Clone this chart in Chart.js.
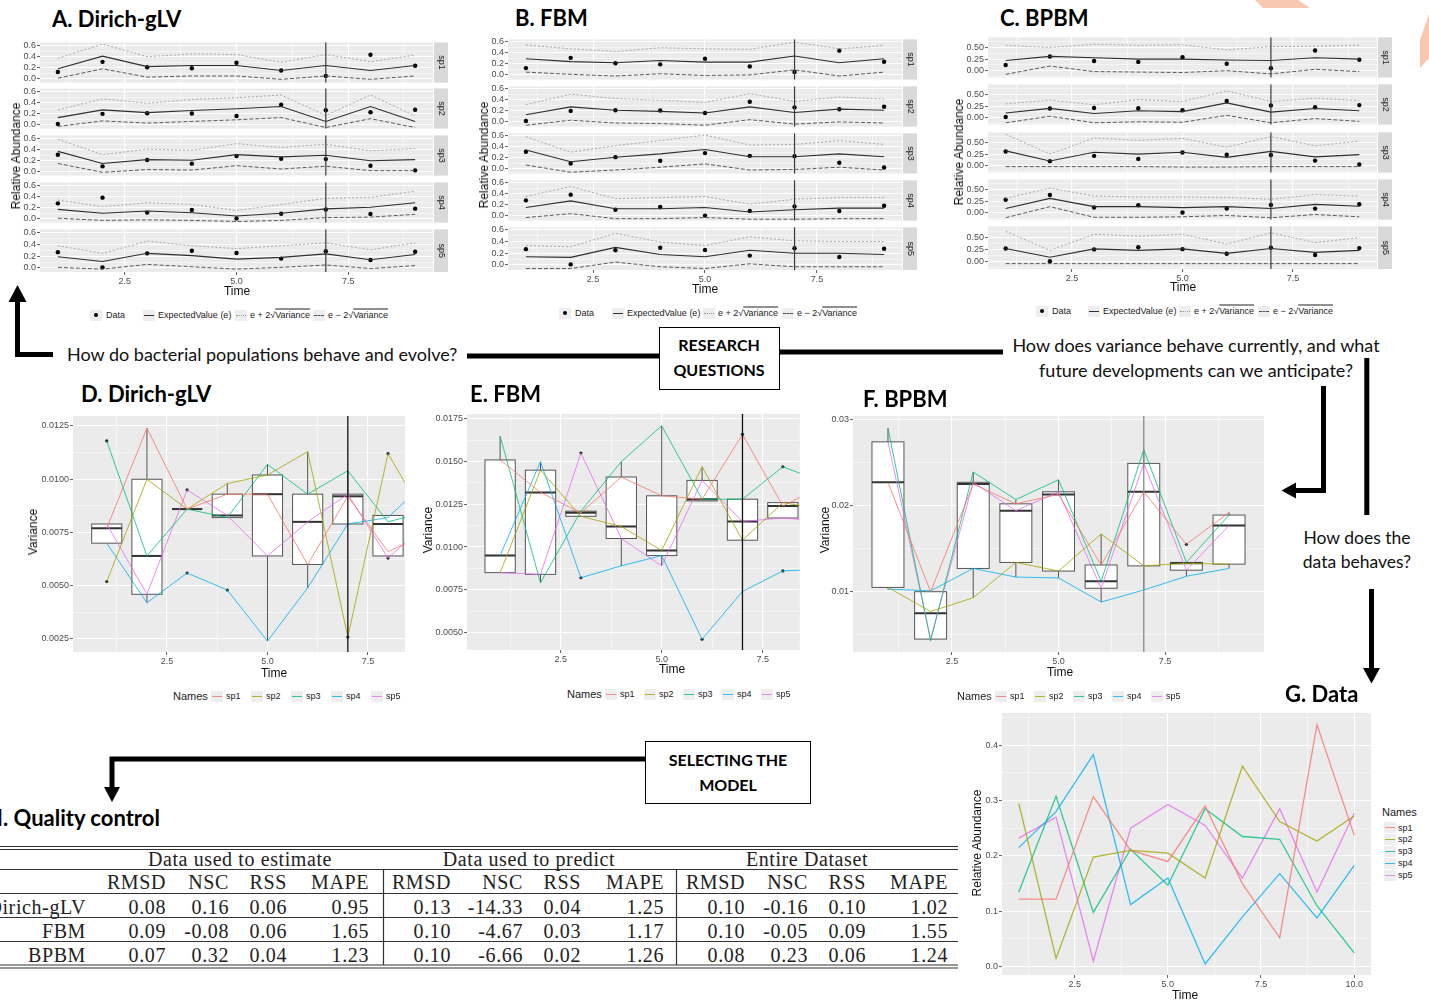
<!DOCTYPE html>
<html>
<head>
<meta charset="utf-8">
<title>Dirich-gLV vs FBM vs BPBM</title>
<script src="https://cdn.jsdelivr.net/npm/chart.js@4.4.1/dist/chart.umd.min.js"></script>
<style>
  html, body { margin: 0; padding: 0; background: #fff; }
  #page { position: relative; width: 1429px; height: 1003px; overflow: hidden; font-family: Lato, "Open Sans", sans-serif; color: #111; }
  .abs { position: absolute; white-space: nowrap; line-height: 1; }
  .title { font-weight: 700; font-size: 22px; color: #000; }
  .q { font-size: 18px; color: #111; }
  .q2 { font-size: 17.5px; color: #111; }
  .boxed { font-weight: 700; font-size: 16px; color: #000; }
  .axt { font-family: "Liberation Sans", Arial, sans-serif; font-size: 12px; color: #111; }
  .leg { font-family: "Liberation Sans", Arial, sans-serif; font-size: 9px; color: #222; }
  .key { position: absolute; width: 12px; height: 11px; background: #eeeeee; }
  .key i { position: absolute; left: 1px; right: 1px; top: 5px; height: 0; }
  .tbl { font-family: "Liberation Serif", "DejaVu Serif", serif; font-size: 20px; letter-spacing: 0.6px; color: #222; }
  .qbox { position: absolute; border: 1.5px solid #000; background: #fff; }
  canvas { position: absolute; }
</style>
</head>
<body>
<div id="page">
<svg width="1429" height="1003" style="position:absolute;left:0;top:0">
  <polygon fill="#f8c8b1" points="1255,0 1298,0 1310,8 1263,8"/>
  <polygon fill="#f8c8b1" points="1429,14 1429,58 1420,68 1420,40"/>
  <g stroke="#000" stroke-width="5" fill="none">
    <polyline points="17.5,300 17.5,354.5 53,354.5"/>
    <line x1="467" y1="356" x2="659" y2="356"/>
    <line x1="779" y1="352" x2="1003" y2="352"/>
    <polyline points="1323.5,386 1323.5,490.5 1294,490.5"/>
    <line x1="1366.8" y1="358" x2="1366.8" y2="515"/>
    <line x1="1371.5" y1="589" x2="1371.5" y2="670"/>
    <polyline points="645,759 112,759 112,790"/>
  </g>
  <g fill="#000">
    <polygon points="17.5,285 8.5,302 26.5,302"/>
    <polygon points="1281.5,490.5 1296,482.5 1296,498.5"/>
    <polygon points="1371.5,683.5 1363,668 1380,668"/>
    <polygon points="112,802 104,787 120,787"/>
  </g>
  <g stroke="#333" stroke-width="1.2">
    <line x1="0" y1="846.5" x2="958" y2="846.5"/>
    <line x1="0" y1="849.5" x2="958" y2="849.5"/>
    <line x1="0" y1="869.5" x2="958" y2="869.5"/>
    <line x1="0" y1="893.5" x2="958" y2="893.5"/>
    <line x1="0" y1="917.5" x2="958" y2="917.5"/>
    <line x1="0" y1="941.5" x2="958" y2="941.5"/>
    <line x1="0" y1="965" x2="958" y2="965"/>
    <line x1="0" y1="968" x2="958" y2="968"/>
    <line x1="383.5" y1="870" x2="383.5" y2="965"/>
    <line x1="676.5" y1="870" x2="676.5" y2="965"/>
  </g>
</svg>
<div class="qbox" style="left:659px;top:327px;width:119px;height:61px"></div>
<div class="qbox" style="left:645px;top:741px;width:164px;height:61px"></div>
</div>
<script>
// ---- data ----
const times = [1, 2, 3, 4, 5, 6, 7, 8, 9];
const dataTimes = [1, 2, 3, 4, 5, 6, 7, 8, 9, 10];
const species = ['sp1', 'sp2', 'sp3', 'sp4', 'sp5'];
const splitTime = 7;

// G. observed relative abundance, times 1..10
const gSp1 = [0.122, 0.122, 0.307, 0.21, 0.19, 0.29, 0.15, 0.052, 0.437, 0.237];
const gSp2 = [0.295, 0.015, 0.198, 0.21, 0.205, 0.16, 0.362, 0.262, 0.227, 0.272];
const gSp3 = [0.135, 0.308, 0.098, 0.212, 0.147, 0.285, 0.235, 0.23, 0.11, 0.025];
const gSp4 = [0.215, 0.28, 0.383, 0.112, 0.16, 0.005, 0.09, 0.168, 0.088, 0.183];
const gSp5 = [0.232, 0.27, 0.01, 0.25, 0.293, 0.255, 0.16, 0.285, 0.135, 0.277];

// A. Dirich-gLV expected value and e +/- 2 sqrt(variance), one row per species
const aExp = [
  [0.18, 0.41, 0.22, 0.24, 0.24, 0.15, 0.24, 0.15, 0.24],
  [0.13, 0.27, 0.22, 0.26, 0.29, 0.33, 0.06, 0.33, 0.06],
  [0.37, 0.15, 0.22, 0.21, 0.31, 0.27, 0.30, 0.20, 0.22],
  [0.17, 0.10, 0.14, 0.11, 0.05, 0.10, 0.18, 0.21, 0.29],
  [0.19, 0.11, 0.25, 0.21, 0.15, 0.18, 0.24, 0.14, 0.23]
];
const aUp = [
  [0.37, 0.63, 0.40, 0.45, 0.44, 0.30, 0.44, 0.31, 0.43],
  [0.27, 0.47, 0.39, 0.46, 0.49, 0.54, 0.17, 0.54, 0.16],
  [0.59, 0.31, 0.41, 0.39, 0.51, 0.44, 0.50, 0.38, 0.42],
  [0.34, 0.22, 0.29, 0.26, 0.15, 0.26, 0.37, 0.39, 0.50],
  [0.38, 0.25, 0.46, 0.38, 0.33, 0.38, 0.43, 0.31, 0.43]
];
const aLow = [
  [0.01, 0.18, 0.03, 0.05, 0.05, -0.01, 0.05, -0.01, 0.05],
  [-0.03, 0.07, 0.03, 0.06, 0.09, 0.13, -0.05, 0.11, -0.05],
  [0.15, -0.01, 0.04, 0.03, 0.11, 0.05, 0.10, 0.02, 0.02],
  [0.01, -0.03, -0.02, -0.03, -0.05, -0.03, 0.02, 0.03, 0.08],
  [0.01, -0.02, 0.06, 0.02, -0.02, 0.01, 0.05, -0.01, 0.04]
];

// B. FBM
const bExp = [
  [0.29, 0.24, 0.22, 0.26, 0.23, 0.23, 0.34, 0.22, 0.29],
  [0.13, 0.27, 0.21, 0.19, 0.16, 0.27, 0.17, 0.23, 0.21],
  [0.34, 0.13, 0.21, 0.27, 0.35, 0.22, 0.22, 0.27, 0.22],
  [0.15, 0.27, 0.13, 0.13, 0.15, 0.07, 0.11, 0.14, 0.14],
  [0.14, 0.13, 0.30, 0.18, 0.14, 0.25, 0.20, 0.20, 0.18]
];
const bUp = [
  [0.54, 0.47, 0.42, 0.49, 0.47, 0.46, 0.59, 0.47, 0.53],
  [0.31, 0.50, 0.42, 0.39, 0.35, 0.51, 0.37, 0.45, 0.41],
  [0.58, 0.30, 0.42, 0.51, 0.61, 0.43, 0.44, 0.51, 0.44],
  [0.35, 0.53, 0.31, 0.33, 0.35, 0.21, 0.30, 0.33, 0.33],
  [0.33, 0.31, 0.54, 0.39, 0.33, 0.48, 0.41, 0.40, 0.40]
];
const bLow = [
  [0.05, 0.01, -0.02, 0.02, -0.01, 0.00, 0.09, -0.02, 0.05],
  [-0.06, 0.03, -0.02, -0.03, -0.06, 0.04, -0.04, 0.00, -0.02],
  [0.07, -0.06, -0.02, 0.03, 0.09, -0.02, -0.01, 0.03, -0.02],
  [-0.03, 0.04, -0.05, -0.05, -0.03, -0.06, -0.06, -0.05, -0.05],
  [-0.06, -0.06, 0.05, -0.03, -0.06, 0.02, -0.03, -0.03, -0.03]
];

// C. BPBM
const cExp = [
  [0.22, 0.31, 0.28, 0.25, 0.25, 0.23, 0.22, 0.28, 0.25],
  [0.10, 0.20, 0.09, 0.15, 0.13, 0.32, 0.12, 0.20, 0.15],
  [0.32, 0.10, 0.29, 0.25, 0.29, 0.18, 0.31, 0.19, 0.24],
  [0.09, 0.31, 0.13, 0.13, 0.11, 0.13, 0.09, 0.18, 0.14],
  [0.27, 0.09, 0.26, 0.23, 0.26, 0.17, 0.27, 0.19, 0.23]
];
const cUp = [
  [0.55, 0.50, 0.57, 0.55, 0.56, 0.45, 0.52, 0.53, 0.55],
  [0.30, 0.38, 0.28, 0.39, 0.35, 0.58, 0.35, 0.42, 0.37],
  [0.68, 0.25, 0.60, 0.55, 0.59, 0.40, 0.63, 0.43, 0.53],
  [0.31, 0.53, 0.36, 0.34, 0.34, 0.33, 0.29, 0.39, 0.36],
  [0.62, 0.23, 0.56, 0.52, 0.56, 0.36, 0.59, 0.39, 0.49]
];
const cLow = [
  [-0.08, 0.10, -0.02, -0.03, -0.04, 0.00, -0.07, 0.03, -0.02],
  [-0.11, 0.03, -0.11, -0.09, -0.10, 0.05, -0.11, -0.02, -0.08],
  [-0.02, -0.02, -0.02, -0.02, -0.03, -0.03, -0.02, -0.02, -0.02],
  [-0.11, 0.13, -0.10, -0.10, -0.09, -0.06, -0.11, -0.04, -0.09],
  [-0.04, -0.04, -0.04, -0.04, -0.04, -0.04, -0.04, -0.04, -0.04]
];

// D. Dirich-gLV variance per species and its boxplot per time
const dVar = [
  [0.0077, 0.0124, 0.0086, 0.0093, 0.0093, 0.0060, 0.0092, 0.0066, 0.0075],
  [0.0052, 0.0100, 0.0086, 0.0098, 0.0102, 0.0113, 0.0026, 0.0112, 0.0080],
  [0.0118, 0.0064, 0.0086, 0.0082, 0.0107, 0.0093, 0.0104, 0.0080, 0.0085],
  [0.0070, 0.0042, 0.0056, 0.0048, 0.0024, 0.0049, 0.0079, 0.0082, 0.0100],
  [0.0079, 0.0046, 0.0095, 0.0083, 0.0064, 0.0080, 0.0093, 0.0063, 0.0080]
];
const dLo  = [0.0070, 0.0042, 0.0086, 0.0082, 0.0024, 0.0049, 0.0079, 0.0064, 0.0075];
const dQ1  = [0.0070, 0.0046, 0.0086, 0.0082, 0.0064, 0.0060, 0.0079, 0.0064, 0.0080];
const dMed = [0.0077, 0.0064, 0.0086, 0.0083, 0.0093, 0.0080, 0.0092, 0.0079, 0.0080];
const dQ3  = [0.0079, 0.0100, 0.0086, 0.0093, 0.0102, 0.0093, 0.0093, 0.0083, 0.0085];
const dHi  = [0.0079, 0.0124, 0.0086, 0.0098, 0.0107, 0.0113, 0.0104, 0.0083, 0.0100];
const dOutT = [1, 1, 3, 3, 4, 7, 8, 8];
const dOutV = [0.0118, 0.0052, 0.0095, 0.0056, 0.0048, 0.0026, 0.0112, 0.0063];

// E. FBM
const eVar = [
  [0.0151, 0.0132, 0.0120, 0.0141, 0.0130, 0.0128, 0.0166, 0.0124, 0.0136],
  [0.0085, 0.0145, 0.0118, 0.0112, 0.0098, 0.0147, 0.0104, 0.0126, 0.0122],
  [0.0165, 0.0079, 0.0121, 0.0150, 0.0171, 0.0128, 0.0128, 0.0147, 0.0138],
  [0.0095, 0.0150, 0.0082, 0.0089, 0.0095, 0.0046, 0.0074, 0.0086, 0.0087],
  [0.0085, 0.0084, 0.0155, 0.0105, 0.0089, 0.0139, 0.0115, 0.0117, 0.0115]
];
const eLo  = [0.0085, 0.0079, 0.0118, 0.0089, 0.0089, 0.0127, 0.0074, 0.0117, 0.0115];
const eQ1  = [0.0085, 0.0084, 0.0118, 0.0105, 0.0095, 0.0127, 0.0104, 0.0117, 0.0115];
const eMed = [0.0095, 0.0132, 0.0120, 0.0112, 0.0098, 0.0128, 0.0115, 0.0124, 0.0122];
const eQ3  = [0.0151, 0.0145, 0.0121, 0.0141, 0.0130, 0.0139, 0.0128, 0.0126, 0.0136];
const eHi  = [0.0165, 0.0150, 0.0121, 0.0150, 0.0171, 0.0147, 0.0128, 0.0126, 0.0138];
const eOutT = [3, 3, 6, 7, 8, 8];
const eOutV = [0.0155, 0.0082, 0.0046, 0.0166, 0.0147, 0.0086];

// F. BPBM
const fVar = [
  [0.0227, 0.0100, 0.0225, 0.0202, 0.0213, 0.0131, 0.0216, 0.0155, 0.0192],
  [0.0105, 0.0077, 0.0093, 0.0134, 0.0124, 0.0167, 0.0130, 0.0133, 0.0132],
  [0.0290, 0.0043, 0.0239, 0.0207, 0.0230, 0.0112, 0.0265, 0.0134, 0.0189],
  [0.0103, 0.0101, 0.0127, 0.0117, 0.0116, 0.0088, 0.0102, 0.0118, 0.0127],
  [0.0274, 0.0045, 0.0227, 0.0194, 0.0216, 0.0104, 0.0249, 0.0125, 0.0177]
];
const fLo  = [0.0103, 0.0043, 0.0093, 0.0117, 0.0116, 0.0088, 0.0102, 0.0118, 0.0127];
const fQ1  = [0.0105, 0.0045, 0.0127, 0.0134, 0.0124, 0.0104, 0.0130, 0.0125, 0.0132];
const fMed = [0.0227, 0.0075, 0.0225, 0.0194, 0.0213, 0.0112, 0.0216, 0.0133, 0.0177];
const fQ3  = [0.0274, 0.0100, 0.0227, 0.0202, 0.0216, 0.0131, 0.0249, 0.0134, 0.0189];
const fHi  = [0.0290, 0.0101, 0.0239, 0.0207, 0.0230, 0.0167, 0.0265, 0.0134, 0.0192];
const fOutT = [8];
const fOutV = [0.0155];

// H. quality control table
const tableModels = ['Dirich-gLV', 'FBM', 'BPBM'];
const tableGroups = ['Data used to estimate', 'Data used to predict', 'Entire Dataset'];
const tableMetrics = ['RMSD', 'NSC', 'RSS', 'MAPE'];
const estimateRows = [[0.08, 0.16, 0.06, 0.95], [0.09, -0.08, 0.06, 1.65], [0.07, 0.32, 0.04, 1.23]];
const predictRows = [[0.13, -14.33, 0.04, 1.25], [0.10, -4.67, 0.03, 1.17], [0.10, -6.66, 0.02, 1.26]];
const entireRows = [[0.10, -0.16, 0.10, 1.02], [0.10, -0.05, 0.09, 1.55], [0.08, 0.23, 0.06, 1.24]];

// ---- helpers ----
const page = document.getElementById('page');
const spColors = ['rgba(248,118,109,0.8)', 'rgba(163,165,0,0.8)', 'rgba(0,191,125,0.8)', 'rgba(0,176,246,0.8)', 'rgba(231,107,243,0.8)'];

Chart.defaults.font.family = '"Liberation Sans", Arial, sans-serif';
Chart.defaults.color = '#4d4d4d';

const panelBg = {
  id: 'panelBg',
  beforeDraw(chart) {
    const { ctx, chartArea: a } = chart;
    ctx.save();
    ctx.fillStyle = '#ebebeb';
    ctx.fillRect(a.left, a.top, a.width, a.height);
    ctx.restore();
  }
};

const facetStrip = {
  id: 'facetStrip',
  afterDraw(chart, args, opts) {
    if (!opts.label) return;
    const { ctx, chartArea: a } = chart;
    ctx.save();
    ctx.fillStyle = '#d9d9d9';
    ctx.fillRect(a.right + 1, a.top, 14, a.height);
    ctx.translate(a.right + 8, a.top + a.height / 2);
    ctx.rotate(Math.PI / 2);
    ctx.fillStyle = '#1a1a1a';
    ctx.font = '9px "Liberation Sans", Arial, sans-serif';
    ctx.textAlign = 'center';
    ctx.textBaseline = 'middle';
    ctx.fillText(opts.label, 0, 0);
    ctx.restore();
  }
};

const splitLine = {
  id: 'splitLine',
  afterDatasetsDraw(chart, args, opts) {
    if (opts.x == null) return;
    const { ctx, chartArea: a } = chart;
    const x = chart.scales.x.getPixelForValue(opts.x);
    ctx.save();
    ctx.strokeStyle = opts.color || '#444';
    ctx.lineWidth = opts.width || 1.2;
    ctx.beginPath();
    ctx.moveTo(x, a.top);
    ctx.lineTo(x, a.bottom);
    ctx.stroke();
    ctx.restore();
  }
};

// boxplots are drawn under the species lines
const boxes = {
  id: 'boxes',
  beforeDatasetsDraw(chart, args, o) {
    if (!o.med) return;
    const { ctx, chartArea: a } = chart;
    const xs = chart.scales.x, ys = chart.scales.y;
    ctx.save();
    ctx.beginPath();
    ctx.rect(a.left, a.top, a.width, a.height);
    ctx.clip();
    o.t.forEach((t, i) => {
      const x = xs.getPixelForValue(t);
      const x0 = xs.getPixelForValue(t - o.width / 2);
      const x1 = xs.getPixelForValue(t + o.width / 2);
      const yLo = ys.getPixelForValue(o.lo[i]), yQ1 = ys.getPixelForValue(o.q1[i]);
      const yMed = ys.getPixelForValue(o.med[i]), yQ3 = ys.getPixelForValue(o.q3[i]);
      const yHi = ys.getPixelForValue(o.hi[i]);
      ctx.strokeStyle = '#555';
      ctx.lineWidth = 1;
      ctx.beginPath();
      ctx.moveTo(x, yLo); ctx.lineTo(x, yQ1);
      ctx.moveTo(x, yQ3); ctx.lineTo(x, yHi);
      ctx.stroke();
      ctx.fillStyle = '#ffffff';
      ctx.fillRect(x0, yQ3, x1 - x0, yQ1 - yQ3);
      ctx.strokeRect(x0, yQ3, x1 - x0, yQ1 - yQ3);
      ctx.strokeStyle = '#333';
      ctx.lineWidth = 2;
      ctx.beginPath();
      ctx.moveTo(x0, yMed); ctx.lineTo(x1, yMed);
      ctx.stroke();
    });
    ctx.restore();
  }
};

Chart.register(panelBg, facetStrip, splitLine, boxes);

function mount(left, top, width, height) {
  const c = document.createElement('canvas');
  c.width = Math.round(width);
  c.height = Math.round(height);
  c.style.left = Math.round(left) + 'px';
  c.style.top = Math.round(top) + 'px';
  c.style.width = Math.round(width) + 'px';
  c.style.height = Math.round(height) + 'px';
  page.appendChild(c);
  return c;
}

function label(html, x, y, cls, anchor, rotate) {
  const d = document.createElement('div');
  d.className = 'abs ' + (cls || '');
  d.innerHTML = html;
  d.style.left = x + 'px';
  d.style.top = y + 'px';
  const tx = anchor === 'left' ? '0' : anchor === 'right' ? '-100%' : '-50%';
  d.style.transform = `translate(${tx},-50%)` + (rotate ? ' rotate(-90deg)' : '');
  page.appendChild(d);
  return d;
}

function axis(min, max, major, minor, digits, showLabels, fit, horizontal) {
  const all = major.concat(minor).sort((p, q) => p - q);
  const isMajor = v => major.some(m => Math.abs(m - v) < 1e-9);
  return {
    type: 'linear', min, max,
    afterBuildTicks: s => { s.ticks = all.map(v => ({ value: v })); },
    afterFit: s => { if (horizontal) s.height = fit; else s.width = fit; },
    border: { display: false },
    grid: {
      color: '#ffffff',
      lineWidth: c => (c.tick && isMajor(c.tick.value)) ? 1.1 : 0.5,
      drawTicks: showLabels, tickLength: 3, tickWidth: 0.8,
      tickColor: c => (c.tick && isMajor(c.tick.value)) ? '#333' : 'rgba(0,0,0,0)'
    },
    ticks: {
      display: showLabels, autoSkip: false, maxRotation: 0, padding: 1,
      color: '#4d4d4d', font: { size: 9 },
      callback: v => isMajor(v) ? v.toFixed(digits) : ''
    }
  };
}

function baseOptions(padding, plugins, scales) {
  return {
    responsive: false, animation: false, devicePixelRatio: 1,
    layout: { padding },
    plugins: Object.assign({ legend: { display: false }, tooltip: { enabled: false } }, plugins),
    scales
  };
}

// ---- A, B, C: faceted predictions ----
const obsRows = [gSp1, gSp2, gSp3, gSp4, gSp5].map(r => r.slice(1));

function facetPanel(p) {
  for (let row = 0; row < 5; row++) {
    const top = p.top0 + row * p.pitch;
    const last = row === 4;
    const PADT = 6, YW = 34, RW = 16, XH = last ? 16 : 4;
    const canvas = mount(p.left - YW, top - PADT, YW + p.width + RW, PADT + p.h + XH);
    const pts = vals => times.map((t, i) => ({ x: t, y: vals[i] }));
    const datasets = [
      { data: pts(p.up[row]), showLine: true, borderColor: '#a9a9a9', borderWidth: 1, borderDash: [2, 2], pointRadius: 0 },
      { data: pts(p.low[row]), showLine: true, borderColor: '#5a5a5a', borderWidth: 1, borderDash: [4, 2], pointRadius: 0 },
      { data: pts(p.exp[row]), showLine: true, borderColor: '#2e2e2e', borderWidth: 1.1, pointRadius: 0 },
      { data: pts(obsRows[row]), pointRadius: 2.2, backgroundColor: '#000', borderWidth: 0 }
    ];
    new Chart(canvas, {
      type: 'scatter',
      data: { datasets },
      options: baseOptions(
        { top: PADT, right: RW, left: 0, bottom: 0 },
        { facetStrip: { label: species[row] }, splitLine: { x: splitTime, color: '#3a3a3a', width: 1.2 } },
        {
          x: axis(0.6, 9.4, [2.5, 5, 7.5], [1.25, 3.75, 6.25, 8.75], 1, last, XH, true),
          y: axis(p.ymin, p.ymax, p.yMajor, p.yMinor, p.digits, true, YW, false)
        })
    });
  }
}

facetPanel({ left: 40, width: 393, top0: 41.5, pitch: 46.8, h: 42.6, exp: aExp, up: aUp, low: aLow,
  ymin: -0.07, ymax: 0.66, yMajor: [0, 0.2, 0.4, 0.6], yMinor: [0.1, 0.3, 0.5], digits: 1 });
facetPanel({ left: 508, width: 394, top0: 39.3, pitch: 46.8, h: 42.5, exp: bExp, up: bUp, low: bLow,
  ymin: -0.085, ymax: 0.64, yMajor: [0, 0.2, 0.4, 0.6], yMinor: [0.1, 0.3, 0.5], digits: 1 });
facetPanel({ left: 988, width: 389, top0: 37.3, pitch: 47.1, h: 43, exp: cExp, up: cUp, low: cLow,
  ymin: -0.15, ymax: 0.72, yMajor: [0, 0.25, 0.5], yMinor: [-0.125, 0.125, 0.375, 0.625], digits: 2 });

// ---- D, E, F: variance with boxplots ----
function varPanel(c) {
  const YW = 48, PADT = 8, XH = 16, RW = 1;
  const canvas = mount(c.left - YW, c.top - PADT, YW + c.width + RW, PADT + c.height + XH);
  const datasets = c.series.map((vals, k) => ({
    data: times.map((t, i) => ({ x: t, y: vals[i] })),
    showLine: true, borderColor: spColors[k], borderWidth: 1, pointRadius: 0
  }));
  datasets.push({ data: c.outT.map((t, i) => ({ x: t, y: c.outV[i] })), pointRadius: 1.6, backgroundColor: '#222', borderWidth: 0 });
  new Chart(canvas, {
    type: 'scatter',
    data: { datasets },
    options: baseOptions(
      { top: PADT, right: RW, left: 0, bottom: 0 },
      { boxes: { t: times, lo: c.lo, q1: c.q1, med: c.med, q3: c.q3, hi: c.hi, width: 0.75 },
        splitLine: { x: splitTime, color: c.vColor, width: 1.3 } },
      {
        x: axis(c.xmin, c.xmax, [2.5, 5, 7.5], [1.25, 3.75, 6.25, 8.75], 1, true, XH, true),
        y: axis(c.ymin, c.ymax, c.yMajor, c.yMinor, c.digits, true, YW, false)
      })
  });
}

varPanel({ left: 73, top: 416, width: 345, height: 236, xmin: 0.16, xmax: 8.42, series: dVar,
  lo: dLo, q1: dQ1, med: dMed, q3: dQ3, hi: dHi, outT: dOutT, outV: dOutV, vColor: '#111',
  ymin: 0.00189, ymax: 0.01297, yMajor: [0.0025, 0.005, 0.0075, 0.01, 0.0125], yMinor: [0.00375, 0.00625, 0.00875, 0.01125], digits: 4 });
varPanel({ left: 467, top: 414, width: 346, height: 236, xmin: 0.18, xmax: 8.42, series: eVar,
  lo: eLo, q1: eQ1, med: eMed, q3: eQ3, hi: eHi, outT: eOutT, outV: eOutV, vColor: '#111',
  ymin: 0.00397, ymax: 0.01779, yMajor: [0.005, 0.0075, 0.01, 0.0125, 0.015, 0.0175], yMinor: [0.00625, 0.00875, 0.01125, 0.01375, 0.01625], digits: 4 });
varPanel({ left: 853, top: 416, width: 414, height: 236, xmin: 0.18, xmax: 9.82, series: fVar,
  lo: fLo, q1: fQ1, med: fMed, q3: fQ3, hi: fHi, outT: fOutT, outV: fOutV, vColor: '#8a8a8a',
  ymin: 0.0030, ymax: 0.0304, yMajor: [0.01, 0.02, 0.03], yMinor: [0.005, 0.015, 0.025], digits: 2 });

// ---- G: raw data ----
(function () {
  const YW = 40, PADT = 8, XH = 16;
  const canvas = mount(1002 - YW, 713 - PADT, YW + 369 + 1, PADT + 262 + XH);
  const datasets = [gSp1, gSp2, gSp3, gSp4, gSp5].map((vals, k) => ({
    data: dataTimes.map((t, i) => ({ x: t, y: vals[i] })),
    showLine: true, borderColor: spColors[k], borderWidth: 1.3, pointRadius: 0
  }));
  new Chart(canvas, {
    type: 'scatter',
    data: { datasets },
    options: baseOptions(
      { top: PADT, right: 1, left: 0, bottom: 0 }, {},
      {
        x: axis(0.55, 10.45, [2.5, 5, 7.5, 10], [1.25, 3.75, 6.25, 8.75], 1, true, XH, true),
        y: axis(-0.015, 0.458, [0, 0.1, 0.2, 0.3, 0.4], [0.05, 0.15, 0.25, 0.35, 0.45], 1, true, YW, false)
      })
  });
})();

// ---- axis titles and legends ----
[[237, 291, 16, 156], [705, 289, 484, 155], [1183, 287, 959, 152]].forEach(([tx, ty, yx, yy]) => {
  label('Time', tx, ty, 'axt');
  label('Relative Abundance', yx, yy, 'axt', 'center', true);
});
[[274, 673, 33, 532], [672, 669, 428, 530], [1060, 672, 825, 530]].forEach(([tx, ty, yx, yy]) => {
  label('Time', tx, ty, 'axt');
  label('Variance', yx, yy, 'axt', 'center', true);
});
label('Time', 1185, 995, 'axt');
label('Relative Abundance', 977, 843, 'axt', 'center', true);

function key(x, y, inner) {
  const k = document.createElement('div');
  k.className = 'key';
  k.style.left = x + 'px';
  k.style.top = (y - 5.5) + 'px';
  k.innerHTML = inner;
  page.appendChild(k);
}
const sqrtVar = '√<span style="text-decoration:overline">Variance</span>';
function predLegend(xs, y) {
  key(xs[0], y, '<b style="position:absolute;left:4px;top:3.5px;width:4px;height:4px;border-radius:50%;background:#000"></b>');
  label('Data', xs[0] + 16, y, 'leg', 'left');
  key(xs[1], y, '<i style="border-top:1px solid #333"></i>');
  label('ExpectedValue (e)', xs[1] + 15, y, 'leg', 'left');
  key(xs[2], y, '<i style="border-top:1px dotted #999"></i>');
  label('e + 2' + sqrtVar, xs[2] + 15, y, 'leg', 'left');
  key(xs[3], y, '<i style="border-top:1px dashed #555"></i>');
  label('e − 2' + sqrtVar, xs[3] + 15, y, 'leg', 'left');
}
predLegend([90, 143, 235, 313], 315);
predLegend([559, 612, 703, 782], 313);
predLegend([1036, 1088, 1179, 1258], 311);

function varLegend(x, y, pitch) {
  label('Names', x, y, 'leg', 'left').style.fontSize = '11px';
  species.forEach((s, k) => {
    const kx = x + 38 + k * pitch;
    key(kx, y, `<i style="border-top:1px solid ${spColors[k]}"></i>`);
    label(s, kx + 15, y, 'leg', 'left');
  });
}
varLegend(173, 696, 40);
varLegend(567, 694, 39);
varLegend(957, 696, 39);

label('Names', 1382, 812, 'leg', 'left').style.fontSize = '11px';
species.forEach((s, k) => {
  const y = 827.5 + k * 11.9;
  key(1384, y, `<i style="border-top:1px solid ${spColors[k]}"></i>`);
  label(s, 1398, y, 'leg', 'left');
});

// ---- titles and question texts ----
label('A. Dirich-gLV', 52, 19, 'title', 'left');
label('B. FBM', 515, 18, 'title', 'left');
label('C. BPBM', 1000, 18, 'title', 'left');
label('D. Dirich-gLV', 81, 394, 'title', 'left');
label('E. FBM', 470, 394, 'title', 'left');
label('F. BPBM', 863, 399, 'title', 'left');
label('G. Data', 1285, 694, 'title', 'left');
label('H. Quality control', -14, 818, 'title', 'left');

label('How do bacterial populations behave and evolve?', 67, 354, 'q', 'left');
label('How does variance behave currently, and what', 1196, 345, 'q');
label('future developments can we anticipate?', 1196, 370, 'q');
label('How does the', 1357, 538, 'q2');
label('data behaves?', 1357, 562, 'q2');
label('RESEARCH', 719, 345, 'boxed');
label('QUESTIONS', 719, 370, 'boxed');
label('SELECTING THE', 728, 760, 'boxed');
label('MODEL', 728, 785, 'boxed');

// ---- H: table (LaTeX style, right aligned columns) ----
const groupCenters = [240, 529, 807];
const colRight = [166, 229, 287, 369, 451, 523, 581, 664, 745, 808, 866, 948];
const rowY = [907, 931, 955];
tableGroups.forEach((g, i) => label(g, groupCenters[i], 859, 'tbl'));
[estimateRows, predictRows, entireRows].forEach((rows, gi) => {
  tableMetrics.forEach((m, mi) => {
    const col = gi * 4 + mi;
    label(m, colRight[col], 882, 'tbl', 'right');
    rows.forEach((r, ri) => label(r[mi].toFixed(2), colRight[col], rowY[ri], 'tbl', 'right'));
  });
});
tableModels.forEach((m, ri) => label(m, 86, rowY[ri], 'tbl', 'right'));
</script>
</body>
</html>
